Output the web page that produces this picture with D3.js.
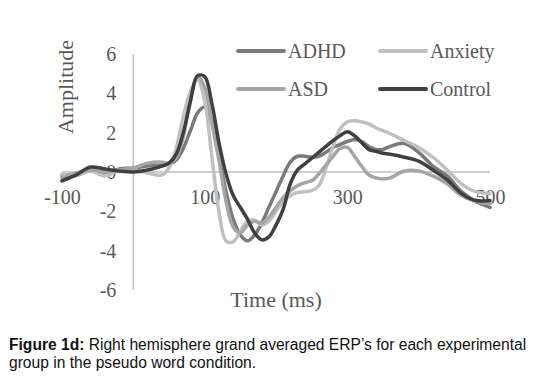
<!DOCTYPE html>
<html>
<head>
<meta charset="utf-8">
<script src="https://cdn.jsdelivr.net/npm/d3@7"></script>
<style>
  body { margin: 0; background: #fff; }
  #wrapper { width: 538px; height: 376px; }
  .serif { font-family: "Liberation Serif", "Times New Roman", serif; fill: #595959; }
  .caption { font-family: "Liberation Sans", Arial, sans-serif; font-size: 15.6px; fill: #111; }
</style>
</head>
<body>
<div id="wrapper"></div>
<script>
// time points (ms), shared by all groups
const times = [-100, -80, -60, -40, -20, 0, 20, 40, 50, 60, 70, 80, 90, 100, 110, 120, 130, 140,
  150, 160, 170, 180, 190, 200, 210, 220, 230, 240, 250, 260, 270, 280, 290, 300, 310, 320, 330,
  340, 350, 360, 380, 400, 420, 440, 460, 480, 500];

const adhd = [-0.2, -0.1, 0.1, -0.15, 0.15, 0.2, 0.3, 0.35, 0.4, 0.6, 1.2, 2.1, 3.0, 3.3, 2.6, 0.8, -1.0, -2.4,
  -3.2, -3.5, -3.2, -2.6, -1.8, -1.0, -0.2, 0.5, 0.8, 0.8, 0.75, 0.8, 1.0, 1.25, 1.4, 1.55, 1.65, 1.55, 1.3,
  1.15, 1.15, 1.3, 1.45, 1.0, 0.3, -0.2, -1.0, -1.5, -1.8];

const anxiety = [-0.1, -0.2, 0.05, -0.2, 0.1, 0.1, -0.05, -0.15, 0.2, 1.2, 2.8, 4.1, 4.7, 3.6, 0.8, -2.0, -3.5, -3.55,
  -3.0, -2.5, -2.45, -2.7, -2.5, -2.0, -1.5, -1.2, -1.05, -1.0, -0.95, -0.7, 0.2, 1.3, 2.2, 2.55, 2.6, 2.55, 2.45,
  2.25, 2.1, 1.95, 1.6, 1.25, 0.75, 0.1, -0.6, -1.0, -1.1];

const asd = [-0.3, -0.05, 0.1, 0.0, 0.1, 0.2, 0.45, 0.5, 0.45, 0.7, 1.8, 3.6, 4.85, 4.3, 2.5, 0.6, -1.5, -2.8,
  -3.1, -2.7, -2.5, -2.6, -2.3, -1.8, -1.3, -0.95, -0.7, -0.55, -0.45, -0.1, 0.35, 0.8, 1.2, 1.25, 0.8, 0.3, -0.15,
  -0.3, -0.35, -0.3, 0.05, 0.05, -0.2, -0.6, -1.2, -1.5, -1.6];

const control = [-0.45, -0.15, 0.25, 0.15, 0.05, 0.0, 0.1, 0.3, 0.45, 0.9, 2.0, 3.6, 4.9, 4.85, 3.5, 1.5, -0.1, -1.2,
  -1.8, -2.4, -3.1, -3.45, -3.3, -2.7, -1.9, -0.6, 0.1, 0.4, 0.7, 1.0, 1.3, 1.6, 1.85, 2.05, 1.85, 1.5, 1.15,
  1.05, 0.95, 0.9, 0.75, 0.55, 0.1, -0.4, -1.1, -1.45, -1.45];

const seriesNames = ["ADHD", "Anxiety", "ASD", "Control"];
const seriesColors = ["#7a7a7a", "#c0c0c0", "#a5a5a5", "#404040"];
const seriesValues = [adhd, anxiety, asd, control];

const xTicks = [-100, 100, 300, 500];
const yTicks = [-6, -4, -2, 0, 2, 4, 6];

const width = 538;
const height = 376;

const svg = d3.select("#wrapper")
  .append("svg")
    .attr("width", width)
    .attr("height", height);

const x = d3.scaleLinear().domain([-100, 500]).range([62, 490]);
const y = d3.scaleLinear().domain([-6, 6]).range([290, 54]);

// axis lines
svg.append("line")
    .attr("x1", x(0)).attr("x2", x(0))
    .attr("y1", y(6)).attr("y2", y(-6))
    .attr("stroke", "#c0c0c0").attr("stroke-width", 1.5);

svg.append("line")
    .attr("x1", x(-100)).attr("x2", x(500))
    .attr("y1", y(0)).attr("y2", y(0))
    .attr("stroke", "#c0c0c0").attr("stroke-width", 1.5);

// tick labels (drawn before lines, the lines go over them)
const yAxis = svg.append("g")
    .attr("transform", `translate(${x(0)},0)`)
    .call(d3.axisLeft(y).tickValues(yTicks).tickSize(0).tickPadding(17));

const xAxis = svg.append("g")
    .attr("transform", `translate(0,${y(0)})`)
    .call(d3.axisBottom(x).tickValues(xTicks).tickSize(0).tickPadding(18));

[yAxis, xAxis].forEach(g => {
  g.select(".domain").remove();
  g.selectAll("text")
      .attr("class", "serif")
      .style("font-size", "20px")
      .attr("fill", "#595959")
      .text(d => String(d)); // plain hyphen for negatives, like the reference
});

// data lines
const line = d3.line()
    .x((d, i) => x(times[i]))
    .y(d => y(d))
    .curve(d3.curveCatmullRom.alpha(0.5));

svg.selectAll(".series")
  .data(seriesValues)
  .join("path")
    .attr("class", "series")
    .attr("fill", "none")
    .attr("stroke", (d, i) => seriesColors[i])
    .attr("stroke-width", 3.5)
    .attr("stroke-linejoin", "round")
    .attr("stroke-linecap", "round")
    .attr("d", line);

// legend
const legendPos = [[238, 51], [380, 51], [238, 89], [380, 89]];
const legend = svg.selectAll(".legend")
  .data(seriesNames)
  .join("g")
    .attr("class", "legend")
    .attr("transform", (d, i) => `translate(${legendPos[i][0]},${legendPos[i][1]})`);

legend.append("line")
    .attr("x1", 0).attr("x2", 46)
    .attr("stroke", (d, i) => seriesColors[i])
    .attr("stroke-width", 4)
    .attr("stroke-linecap", "round");

legend.append("text")
    .attr("class", "serif")
    .attr("x", 50)
    .attr("y", 7)
    .style("font-size", "20px")
    .text(d => d);

// axis titles
svg.append("text")
    .attr("class", "serif")
    .attr("text-anchor", "middle")
    .attr("transform", "translate(73,87) rotate(-90)")
    .style("font-size", "22px")
    .text("Amplitude");

svg.append("text")
    .attr("class", "serif")
    .attr("text-anchor", "middle")
    .attr("x", 276)
    .attr("y", 307)
    .style("font-size", "22px")
    .text("Time (ms)");

// caption
const caption = svg.append("text").attr("class", "caption");
const line1 = caption.append("tspan").attr("x", 9).attr("y", 350);
line1.append("tspan").attr("font-weight", "bold").text("Figure 1d:");
line1.append("tspan").text(" Right hemisphere grand averaged ERP’s for each experimental");
caption.append("tspan").attr("x", 9).attr("y", 368).text("group in the pseudo word condition.");
</script>
</body>
</html>
